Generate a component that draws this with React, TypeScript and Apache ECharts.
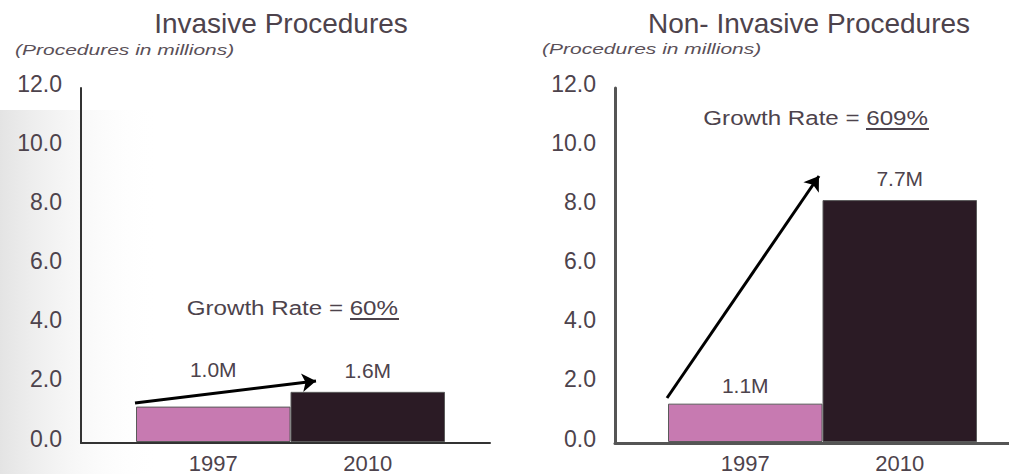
import React, { useEffect, useRef } from "react";
import * as echarts from "echarts";

const years = ["1997", "2010"];
const invasiveValues = [1.2, 1.7];
const invasiveLabels = ["1.0M", "1.6M"];
const nonInvasiveValues = [1.3, 8.2];
const nonInvasiveLabels = ["1.1M", "7.7M"];
const yTicks = [0, 2, 4, 6, 8, 10, 12];
const barColors = ["#c77ab1", "#2b1b25"];
const titles = ["Invasive Procedures", "Non- Invasive Procedures"];
const subtitle = "(Procedures in millions)";
const growthRates = ["60%", "609%"];

const TXT = "#4d434c";
const FONT = "'Liberation Sans', Arial, sans-serif";

export default function App() {
  const ref = useRef<HTMLDivElement>(null);
  useEffect(() => {
    const chart = echarts.init(ref.current!, null, { renderer: "svg" });
    const yMax = yTicks[yTicks.length - 1];
    const mkYAxis = (gridIndex: number, show: boolean, lineColor: string, lineWidth: number) => ({
      type: "value",
      gridIndex,
      min: 0,
      max: yMax,
      interval: 2,
      show,
      axisLine: { show: true, lineStyle: { color: lineColor, width: lineWidth } },
      axisTick: { show: false },
      splitLine: { show: false },
      axisLabel: {
        show: true,
        formatter: (v: number) => "{a|" + v.toFixed(1) + "}",
        margin: 19,
        rich: {
          a: { color: TXT, fontFamily: FONT, fontSize: 23, padding: [0, 0, 9, 0] },
        },
      },
    });
    const mkBar = (xi: number, yi: number, values: number[], labels: string[], dists: number[]) => ({
      type: "bar",
      xAxisIndex: xi,
      yAxisIndex: yi,
      barWidth: "100%",
      data: values.map((v, i) => ({
        value: v,
        itemStyle: { color: barColors[i], borderColor: "#5a5a5a", borderWidth: 1 },
        label: { distance: dists[i] },
      })),
      label: {
        show: true,
        position: "top",
        formatter: (p: any) => labels[p.dataIndex],
        color: TXT,
        fontFamily: FONT,
        fontSize: 21,
      },
    });
    const arrow = (from: number[], to: number[]) => ({
      silent: true,
      symbol: ["none", "arrow"],
      symbolSize: 14,
      label: { show: false },
      lineStyle: { color: "#000", width: 3, type: "solid" },
      data: [[{ x: from[0], y: from[1] }, { x: to[0], y: to[1] }]],
    });
    chart.setOption({
      animation: false,
      backgroundColor: "#ffffff",
      grid: [
        { left: 81, width: 409, top: 88, bottom: 31 },
        { left: 136, width: 309, top: 88, bottom: 31 },
        { left: 615, width: 394, top: 88, bottom: 31 },
        { left: 668, width: 309, top: 88, bottom: 31 },
      ],
      xAxis: [
        { type: "value", gridIndex: 0, min: 0, max: 1, axisLine: { show: true, onZero: false, lineStyle: { color: "#333", width: 2 } }, axisTick: { show: false }, axisLabel: { show: false }, splitLine: { show: false } },
        { type: "category", gridIndex: 1, data: years, axisLine: { show: false }, axisTick: { show: false }, axisLabel: { color: TXT, fontFamily: FONT, fontSize: 22, margin: 10 } },
        { type: "value", gridIndex: 2, min: 0, max: 1, axisLine: { show: true, onZero: false, lineStyle: { color: "#555", width: 3 } }, axisTick: { show: false }, axisLabel: { show: false }, splitLine: { show: false } },
        { type: "category", gridIndex: 3, data: years, axisLine: { show: false }, axisTick: { show: false }, axisLabel: { color: TXT, fontFamily: FONT, fontSize: 22, margin: 10 } },
      ],
      yAxis: [
        mkYAxis(0, true, "#333", 2),
        mkYAxis(1, false, "#333", 2),
        mkYAxis(2, true, "#555", 3),
        mkYAxis(3, false, "#555", 3),
      ],
      series: [
        {
          ...mkBar(1, 1, invasiveValues, invasiveLabels, [27, 11]),
          markLine: arrow([135, 403], [316, 381]),
        },
        {
          ...mkBar(3, 3, nonInvasiveValues, nonInvasiveLabels, [8, 11]),
          markLine: arrow([667, 398], [819, 176]),
        },
      ],
      graphic: [
        {
          type: "rect",
          z: -10,
          silent: true,
          shape: { x: 0, y: 110, width: 160, height: 364 },
          style: {
            fill: new echarts.graphic.LinearGradient(0, 0, 1, 0, [
              { offset: 0, color: "rgba(205,205,205,0.55)" },
              { offset: 1, color: "rgba(255,255,255,0)" },
            ]),
          },
        },
        { type: "text", x: 281, y: 23, style: { text: titles[0], font: `28px ${FONT}`, fill: TXT, align: "center", verticalAlign: "middle" } },
        { type: "text", x: 809, y: 23, style: { text: titles[1], font: `28px ${FONT}`, fill: TXT, align: "center", verticalAlign: "middle" } },
        { type: "text", x: 15, y: 50, scaleX: 1.4, style: { text: subtitle, font: `italic 15px ${FONT}`, fill: "#5a5058", align: "left", verticalAlign: "middle" } },
        { type: "text", x: 542, y: 49, scaleX: 1.4, style: { text: subtitle, font: `italic 15px ${FONT}`, fill: "#5a5058", align: "left", verticalAlign: "middle" } },
        { type: "text", x: 398, y: 308, scaleX: 1.15, style: { text: "Growth Rate = " + growthRates[0], font: `21px ${FONT}`, fill: TXT, align: "right", verticalAlign: "middle" } },
        { type: "line", shape: { x1: 350, y1: 319, x2: 399, y2: 319 }, style: { stroke: TXT, lineWidth: 2 } },
        { type: "text", x: 928, y: 118, scaleX: 1.15, style: { text: "Growth Rate = " + growthRates[1], font: `21px ${FONT}`, fill: TXT, align: "right", verticalAlign: "middle" } },
        { type: "line", shape: { x1: 866, y1: 129, x2: 929, y2: 129 }, style: { stroke: TXT, lineWidth: 2 } },
      ],
    });
    return () => chart.dispose();
  }, []);
  return (
    <div
      ref={ref}
      style={{ position: "fixed", left: 0, top: 0, width: 1009, height: 474 }}
    />
  );
}
